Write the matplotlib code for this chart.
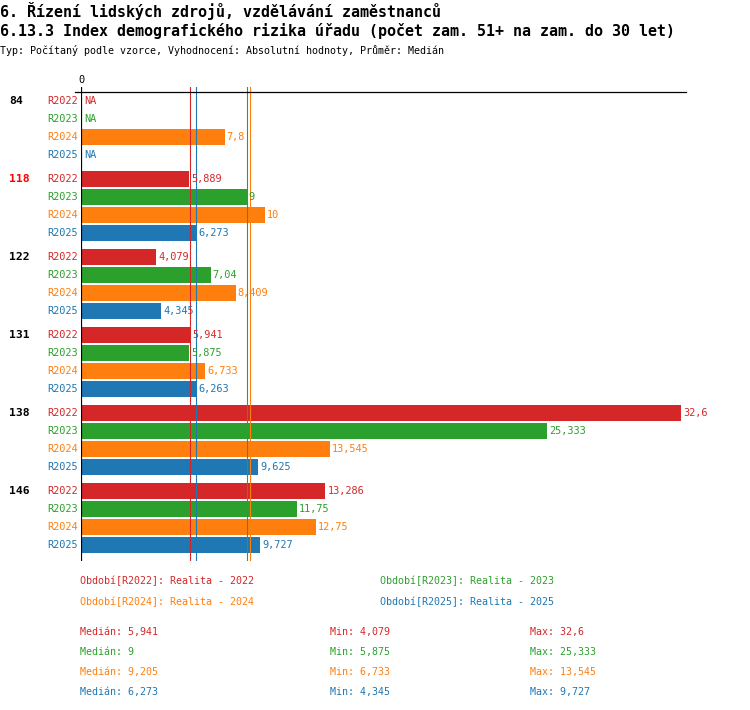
import numpy as np
import matplotlib
matplotlib.use("Agg")
import matplotlib.pyplot as plt
import matplotlib.transforms as mtransforms

plt.rcParams["font.family"] = "DejaVu Sans Mono"

TITLE1 = "6. Řízení lidských zdrojů, vzdělávání zaměstnanců"
TITLE2 = "6.13.3 Index demografického rizika úřadu (počet zam. 51+ na zam. do 30 let)"
SUBTITLE = "Typ: Počítaný podle vzorce, Vyhodnocení: Absolutní hodnoty, Průměr: Medián"

groups = ["84", "118", "122", "131", "138", "146"]
highlight = "118"
series = ["R2022", "R2023", "R2024", "R2025"]
series_names = ["Realita - 2022", "Realita - 2023", "Realita - 2024", "Realita - 2025"]
colors = ["#d62728", "#2ca02c", "#ff7f0e", "#1f77b4"]

r2022 = [np.nan, 5.889, 4.079, 5.941, 32.6, 13.286]
r2023 = [np.nan, 9, 7.04, 5.875, 25.333, 11.75]
r2024 = [7.8, 10, 8.409, 6.733, 13.545, 12.75]
r2025 = [np.nan, 6.273, 4.345, 6.263, 9.625, 9.727]
data = [r2022, r2023, r2024, r2025]


def fmt(v):
    s = f"{round(v + 1e-9, 3):g}"
    return s.replace(".", ",")


W, H = 750, 710
fig = plt.figure(figsize=(W / 100, H / 100), dpi=100)

# pixel helpers for layout
def fx(px):
    return px / W


def fy(py):
    return 1 - py / H


px_per_unit = 18.40
x0_px, xr_px = 81, 686
top_px, bot_px = 87, 561
row_px = 18
group_px = 78
first_row_px = 101

ax = fig.add_axes([fx(x0_px), fy(bot_px), fx(xr_px - x0_px), (bot_px - top_px) / H])
ax.set_xlim(0, (xr_px - x0_px) / px_per_unit)
ax.set_ylim((bot_px - first_row_px) / row_px, (top_px - first_row_px) / row_px)
ax.axis("off")

gstep = group_px / row_px
fs = 7.4
for si, (name, vals, c) in enumerate(zip(series, data, colors)):
    ys = np.arange(len(groups)) * gstep + si
    vals = np.array(vals, dtype=float)
    ok = ~np.isnan(vals)
    ax.barh(ys[ok], vals[ok], height=16 / 18, color=c, left=0)
    for y, v in zip(ys, vals):
        if np.isnan(v):
            ax.annotate("NA", (0, y), xytext=(3, 0), textcoords="offset pixels",
                        ha="left", va="center", color=c, fontsize=fs)
        else:
            ax.annotate(fmt(v), (v, y), xytext=(2, 0), textcoords="offset pixels",
                        ha="left", va="center", color=c, fontsize=fs)
        ax.annotate(name, (0, y), xytext=(-3, 0), textcoords="offset pixels",
                    ha="right", va="center", color=c, fontsize=fs, annotation_clip=False)

blend = mtransforms.blended_transform_factory(fig.transFigure, ax.transData)
for gi, g in enumerate(groups):
    ax.text(fx(9), gi * gstep, g, transform=blend, ha="left", va="center",
            fontsize=8.2, fontweight="bold",
            color="#ff0000" if g == highlight else "black")

# medians
meds = [np.nanmedian(d) for d in data]
for m, c in zip(meds, colors):
    ax.axvline(m, color=c, lw=0.8)

ax.axvline(0, color="black", lw=1.6)
ax.plot([-6 / px_per_unit, (xr_px - x0_px) / px_per_unit], [-0.5, -0.5],
        color="black", lw=0.9, clip_on=False)
ax.annotate("0", (0, 1), xycoords="axes fraction", xytext=(0, 2),
            textcoords="offset pixels", ha="center", va="bottom", fontsize=7.4)

fig.text(0, fy(11), TITLE1, fontsize=10.8, fontweight="bold", va="center", ha="left")
fig.text(0, fy(31), TITLE2, fontsize=10.8, fontweight="bold", va="center", ha="left")
fig.text(0, fy(50), SUBTITLE, fontsize=7.2, va="center", ha="left")

# legend
leg_pos = [(80, 581), (380, 581), (80, 602), (380, 602)]
for (lx, ly), s, n, c in zip(leg_pos, series, series_names, colors):
    fig.text(fx(lx), fy(ly), f"Období[{s}]: {n}", color=c, fontsize=7.2,
             va="center", ha="left")

# stats
for i, (d, c) in enumerate(zip(data, colors)):
    y = 632 + i * 20
    fig.text(fx(80), fy(y), f"Medián: {fmt(np.nanmedian(d))}", color=c, fontsize=7.2, va="center")
    fig.text(fx(330), fy(y), f"Min: {fmt(np.nanmin(d))}", color=c, fontsize=7.2, va="center")
    fig.text(fx(530), fy(y), f"Max: {fmt(np.nanmax(d))}", color=c, fontsize=7.2, va="center")

fig.savefig("out.png", dpi=100)
